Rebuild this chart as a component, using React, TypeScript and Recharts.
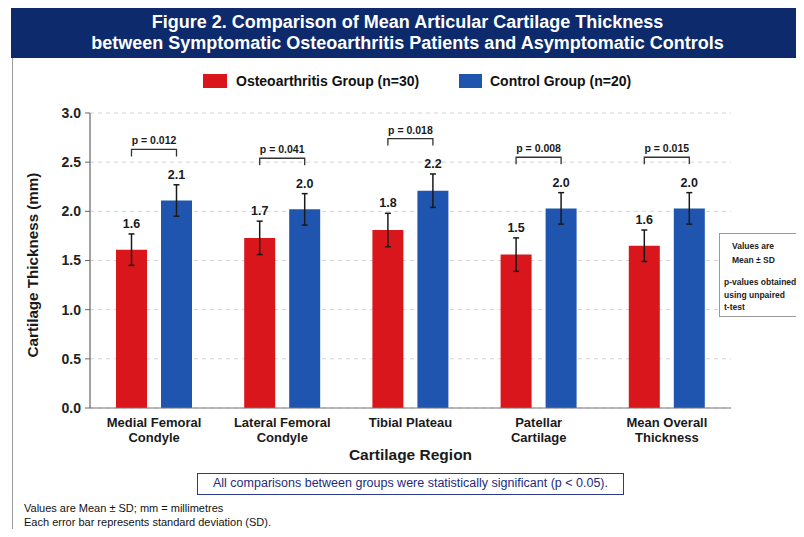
import React from 'react';
import { BarChart, Bar, XAxis, YAxis, CartesianGrid, ErrorBar, LabelList, Label } from 'recharts';

const categories = [
  'Medial Femoral Condyle',
  'Lateral Femoral Condyle',
  'Tibial Plateau',
  'Patellar Cartilage',
  'Mean Overall Thickness',
];
const tickLines = [
  ['Medial Femoral', 'Condyle'],
  ['Lateral Femoral', 'Condyle'],
  ['Tibial Plateau'],
  ['Patellar', 'Cartilage'],
  ['Mean Overall', 'Thickness'],
];
const oaMean = [1.61, 1.73, 1.81, 1.56, 1.65];
const oaSd = [0.16, 0.17, 0.17, 0.17, 0.16];
const ctrlMean = [2.11, 2.02, 2.21, 2.03, 2.03];
const ctrlSd = [0.16, 0.16, 0.17, 0.16, 0.16];
const oaLabels = ['1.6', '1.7', '1.8', '1.5', '1.6'];
const ctrlLabels = ['2.1', '2.0', '2.2', '2.0', '2.0'];
const pValues = ['p = 0.012', 'p = 0.041', 'p = 0.018', 'p = 0.008', 'p = 0.015'];
const yTicks = [0, 0.5, 1.0, 1.5, 2.0, 2.5, 3.0];

const RED = '#d9161c';
const BLUE = '#1f55ae';
const NAVY = '#0c2a6c';
const FONT = "'Liberation Sans', Arial, Helvetica, sans-serif";
const BAR_GAP = 14;
const BRACKET_OFFSET = 0.36;

const data = categories.map((c, i) => ({
  region: c,
  oa: oaMean[i],
  oaSd: oaSd[i],
  ctrl: ctrlMean[i],
  ctrlSd: ctrlSd[i],
}));

const XTick = (props: any) => {
  const { x, y, payload } = props;
  const idx = categories.indexOf(payload.value);
  const lines = tickLines[idx] || [payload.value];
  return (
    <text x={x} y={y} textAnchor="middle" fontSize={13} fontWeight="bold" fill="#1a1a1a">
      {lines.map((l: string, i: number) => (
        <tspan key={i} x={x} dy={i === 0 ? 19 : 15}>
          {l}
        </tspan>
      ))}
    </text>
  );
};

const makeValueLabel = (labels: string[], sds: number[]) => (props: any) => {
  const x = Number(props.x);
  const y = Number(props.y);
  const width = Number(props.width);
  const height = Number(props.height);
  const value = Number(props.value);
  const index = props.index ?? 0;
  const ppu = height / value;
  const errTop = y - sds[index] * ppu;
  return (
    <text x={x + width / 2} y={errTop - 6} textAnchor="middle" fontSize={12.5} fontWeight="bold" fill="#1a1a1a">
      {labels[index]}
    </text>
  );
};

const Bracket = (props: any) => {
  const x = Number(props.x);
  const y = Number(props.y);
  const width = Number(props.width);
  const height = Number(props.height);
  const value = Number(props.value);
  const index = props.index ?? 0;
  const ppu = height / value;
  const zeroY = y + height;
  const bx = x + width / 2;
  const rx = bx - (width + BAR_GAP);
  const top = Math.max(oaMean[index] + oaSd[index], ctrlMean[index] + ctrlSd[index]) + BRACKET_OFFSET;
  const ty = zeroY - top * ppu;
  return (
    <g>
      <path d={`M${rx},${ty + 7} L${rx},${ty} L${bx},${ty} L${bx},${ty + 7}`} fill="none" stroke="#333" strokeWidth={1.3} />
      <text x={(rx + bx) / 2} y={ty - 5} textAnchor="middle" fontSize={10.5} fontWeight="bold" fill="#1a1a1a">
        {pValues[index]}
      </text>
    </g>
  );
};

const XTitle = (props: any) => {
  const vb = props.viewBox || {};
  return (
    <text x={vb.x + vb.width / 2} y={vb.y + 52} textAnchor="middle" fontSize={15.5} fontWeight="bold" fill="#1a1a1a">
      Cartilage Region
    </text>
  );
};

const YTitle = (props: any) => {
  const vb = props.viewBox || {};
  const cx = vb.x + 2;
  const cy = vb.y + vb.height / 2 + 4.5;
  return (
    <text
      x={cx}
      y={cy}
      transform={`rotate(-90, ${cx}, ${cy})`}
      textAnchor="middle"
      dominantBaseline="central"
      fontSize={15.2}
      fontWeight="bold"
      fill="#1a1a1a"
    >
      Cartilage Thickness (mm)
    </text>
  );
};

export default function App() {
  return (
    <div
      style={{
        position: 'relative',
        width: 789,
        height: 521,
        overflow: 'hidden',
        fontFamily: FONT,
        background: '#fff',
      }}
    >
      <div style={{ position: 'absolute', left: 4, top: 0, width: 1, height: 521, background: '#9a9a9a' }} />
      <div
        style={{
          position: 'absolute',
          left: 3,
          top: 0,
          width: 793,
          height: 50,
          background: NAVY,
        }}
      />
      <div
        style={{
          position: 'absolute',
          left: 3,
          top: 0,
          width: 793,
          height: 50,
          color: '#fff',
          textAlign: 'center',
          fontWeight: 'bold',
          fontSize: 18,
          lineHeight: '21px',
          paddingTop: 4,
          boxSizing: 'border-box',
        }}
      >
        <div>Figure 2. Comparison of Mean Articular Cartilage Thickness</div>
        <div>between Symptomatic Osteoarthritis Patients and Asymptomatic Controls</div>
      </div>

      <div style={{ position: 'absolute', left: 195, top: 66, width: 24, height: 14, background: RED }} />
      <div style={{ position: 'absolute', left: 228, top: 65, fontSize: 14, fontWeight: 'bold', color: '#111', lineHeight: '17px' }}>
        Osteoarthritis Group (n=30)
      </div>
      <div style={{ position: 'absolute', left: 451, top: 66, width: 23, height: 14, background: BLUE }} />
      <div style={{ position: 'absolute', left: 482, top: 65, fontSize: 14, fontWeight: 'bold', color: '#111', lineHeight: '17px' }}>
        Control Group (n=20)
      </div>

      <div style={{ position: 'absolute', left: 0, top: 0 }}>
        <BarChart
          width={789}
          height={470}
          data={data}
          margin={{ top: 105, right: 66, bottom: 20, left: 22 }}
          barGap={BAR_GAP}
        >
          <CartesianGrid vertical={false} stroke="#d4d4d4" strokeDasharray="4 4" />
          <XAxis
            dataKey="region"
            height={50}
            tickLine={false}
            tickSize={0}
            tickMargin={0}
            axisLine={{ stroke: '#777', strokeWidth: 1.2 }}
            tick={<XTick />}
            interval={0}
          >
            <Label content={<XTitle />} />
          </XAxis>
          <YAxis
            width={60}
            domain={[0, 3]}
            ticks={yTicks}
            tickFormatter={(v: number) => v.toFixed(1)}
            tick={{ fontSize: 14, fontWeight: 'bold', fill: '#222' }}
            tickLine={{ stroke: '#666' }}
            tickSize={5}
            tickMargin={4}
            axisLine={{ stroke: '#666', strokeWidth: 1.2 }}
            allowDataOverflow
          >
            <Label content={<YTitle />} />
          </YAxis>
          <Bar dataKey="oa" fill={RED} barSize={31} isAnimationActive={false}>
            <ErrorBar dataKey="oaSd" width={3} stroke="#1a1a1a" strokeWidth={1.5} />
            <LabelList dataKey="oa" content={makeValueLabel(oaLabels, oaSd)} />
          </Bar>
          <Bar dataKey="ctrl" fill={BLUE} barSize={31} isAnimationActive={false}>
            <ErrorBar dataKey="ctrlSd" width={3} stroke="#1a1a1a" strokeWidth={1.5} />
            <LabelList dataKey="ctrl" content={makeValueLabel(ctrlLabels, ctrlSd)} />
            <LabelList dataKey="ctrl" content={Bracket} />
          </Bar>
        </BarChart>
      </div>

      <div
        style={{
          position: 'absolute',
          left: 711,
          top: 225,
          width: 110,
          height: 84,
          borderLeft: '1px solid #9a9a9a',
          borderTop: '1px solid #9a9a9a',
          borderBottom: '1px solid #9a9a9a',
          background: '#fff',
          boxSizing: 'border-box',
          fontSize: 8.5,
          fontWeight: 'bold',
          color: '#222',
        }}
      >
        <div style={{ position: 'absolute', left: 12, top: 6, lineHeight: '12px' }}>Values are</div>
        <div style={{ position: 'absolute', left: 12, top: 20, lineHeight: '12px' }}>Mean ± SD</div>
        <div style={{ position: 'absolute', left: 4, top: 42, lineHeight: '12px', whiteSpace: 'nowrap' }}>p-values obtained</div>
        <div style={{ position: 'absolute', left: 4, top: 55, lineHeight: '12px', whiteSpace: 'nowrap' }}>using unpaired</div>
        <div style={{ position: 'absolute', left: 4, top: 67, lineHeight: '12px' }}>t-test</div>
      </div>

      <div
        style={{
          position: 'absolute',
          left: 189,
          top: 465,
          width: 427,
          height: 22,
          border: '1.5px solid #2b3a8c',
          boxSizing: 'border-box',
          color: '#1c2b7f',
          fontSize: 12.5,
          textAlign: 'center',
          lineHeight: '19px',
        }}
      >
        All comparisons between groups were statistically significant (p &lt; 0.05).
      </div>

      <div style={{ position: 'absolute', left: 16, top: 493, fontSize: 11, color: '#111', lineHeight: '14px' }}>
        <div>Values are Mean ± SD; mm = millimetres</div>
        <div>Each error bar represents standard deviation (SD).</div>
      </div>
    </div>
  );
}
